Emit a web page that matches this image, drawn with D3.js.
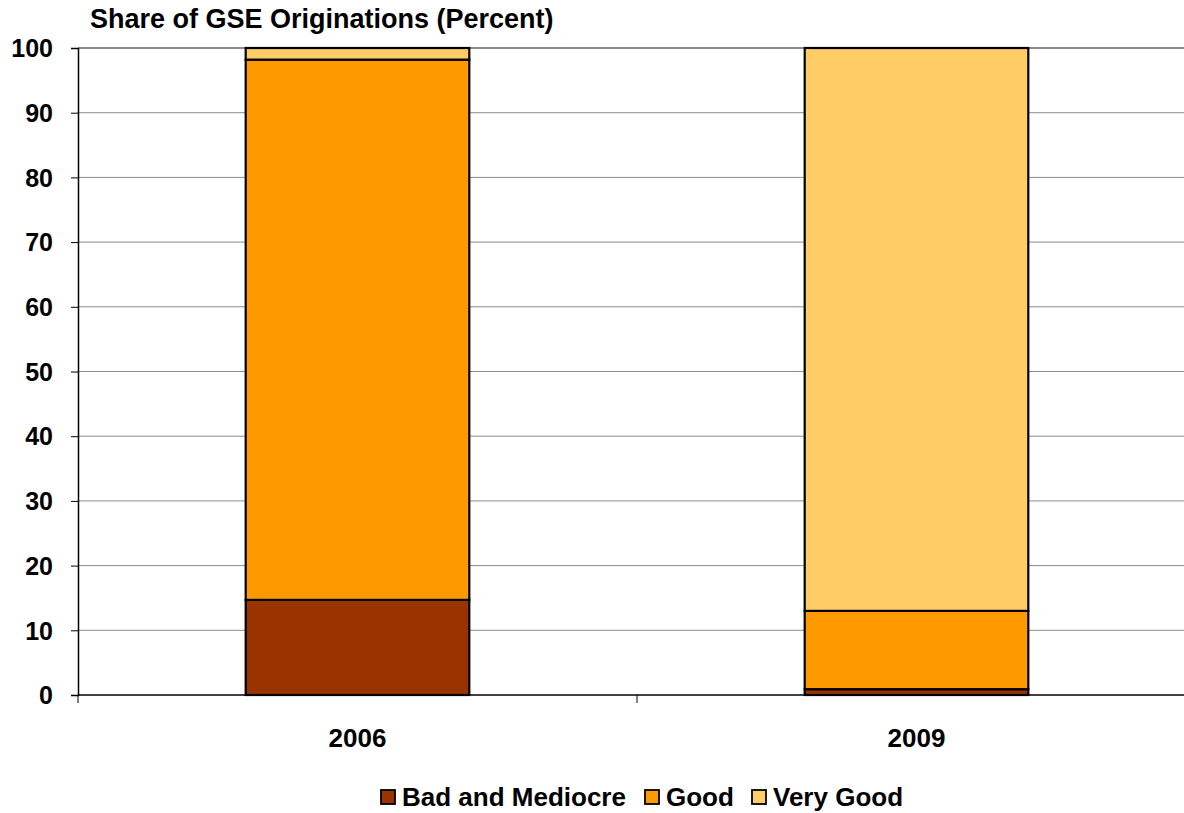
<!DOCTYPE html>
<html><head><meta charset="utf-8">
<script src="https://cdn.jsdelivr.net/npm/d3@7"></script>
<style>body{margin:0;background:#fff}svg{display:block;font-family:"Liberation Sans",Arial,sans-serif;font-weight:bold}</style>
</head><body><svg id="c" width="1184" height="813"></svg>
<script>
const categories = ["2006", "2009"];
const seriesNames = ["Bad and Mediocre", "Good", "Very Good"];
const badMediocre = [14.7, 0.9];
const good = [83.5, 12.1];
const veryGood = [1.8, 87.0];
const yTicks = [0, 10, 20, 30, 40, 50, 60, 70, 80, 90, 100];
const colors = ["#993300", "#FF9900", "#FFCC66"];

(function () {
const svg = d3.select("#c");
const pl = 78, pr = 1196, pt = 48, pb = 695;
const x = d3.scaleBand().domain(categories).range([pl, pr]).paddingInner(0.6).paddingOuter(0.3);
const xOuter = d3.scaleBand().domain(categories).range([pl, pr]).padding(0);
const y = d3.scaleLinear().domain([0, 100]).range([pb, pt]);

// gridlines
svg.append("g").selectAll("line").data(yTicks.filter(d => d > 0)).join("line")
  .attr("x1", pl).attr("x2", 1184).attr("y1", d => y(d)).attr("y2", d => y(d))
  .attr("stroke", "#8c8c8c").attr("stroke-width", d => d === 100 ? 2 : 1);

const data = categories.map((c, i) => ({cat: c, "Bad and Mediocre": badMediocre[i], "Good": good[i], "Very Good": veryGood[i]}));
const stack = d3.stack().keys(seriesNames)(data);
svg.append("g").selectAll("g").data(stack).join("g").attr("fill", (d, i) => colors[i])
  .selectAll("rect").data(d => d).join("rect")
  .attr("x", d => x(d.data.cat)).attr("width", x.bandwidth())
  .attr("y", d => y(d[1])).attr("height", d => y(d[0]) - y(d[1]))
  .attr("stroke", "#000").attr("stroke-width", 2.2);

// y axis
const ya = svg.append("g").attr("transform", `translate(${pl},0)`)
  .call(d3.axisLeft(y).tickValues(yTicks).tickSize(7).tickPadding(18).tickFormat(d3.format("d")));
ya.select(".domain").attr("stroke", "#000").attr("stroke-width", 1.5);
ya.selectAll(".tick line").attr("stroke", "#000");
ya.selectAll("text").attr("font-size", 25).attr("font-weight", "bold").attr("fill", "#000")
  .attr("font-family", "Liberation Sans, Arial, sans-serif").attr("dy", "0.35em");

// x axis
const xa = svg.append("g").attr("transform", `translate(0,${pb})`);
xa.append("line").attr("x1", pl).attr("x2", 1184).attr("stroke", "#000").attr("stroke-width", 1.5);
const bounds = [pl, ...categories.slice(1).map(c => xOuter(c)), pr];
xa.selectAll("line.tk").data(bounds).join("line").attr("class", "tk")
  .attr("x1", d => d).attr("x2", d => d).attr("y1", 0).attr("y2", 8).attr("stroke", "#000");
xa.selectAll("text").data(categories).join("text")
  .attr("x", d => x(d) + x.bandwidth() / 2).attr("y", 52).attr("text-anchor", "middle")
  .attr("font-size", 26).text(d => d);

// title
svg.append("text").attr("x", 90).attr("y", 28).attr("font-size", 27).text("Share of GSE Originations (Percent)");

// legend
const lg = svg.append("g").attr("transform", "translate(381,790)");
const offs = [0, 264, 371];
seriesNames.forEach((n, i) => {
  const g = lg.append("g").attr("transform", `translate(${offs[i]},0)`);
  g.append("rect").attr("width", 14).attr("height", 14).attr("fill", colors[i]).attr("stroke", "#000").attr("stroke-width", 1.8);
  g.append("text").attr("x", 21).attr("y", 16).attr("font-size", 26).text(n);
});
})();
</script></body></html>
